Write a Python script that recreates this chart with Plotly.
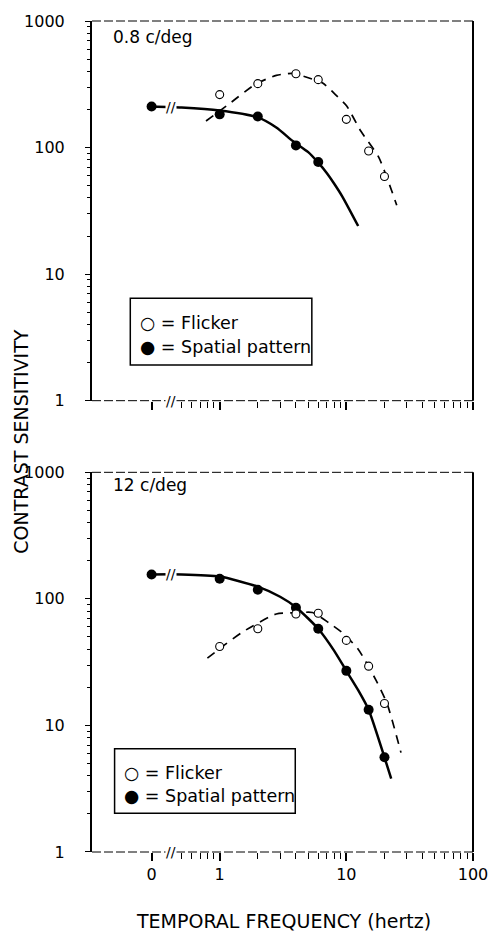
import math
import plotly.graph_objects as go

# ---------------- data ----------------
# Panel 1: 0.8 c/deg
p1_spatial_f = [0, 1, 2, 4, 6]
p1_spatial_v = [211, 183, 176, 104, 77]
p1_flicker_f = [1, 2, 4, 6, 10, 15, 20]
p1_flicker_v = [262, 320, 383, 344, 167, 94, 59]
p1_solid_f = [0, 0.5, 1, 2, 2.8, 3.8, 5, 6, 7, 8, 9.3, 12.4]
p1_solid_v = [211, 207, 196, 173, 144, 112, 92, 76, 63, 52, 41, 24]
p1_dash_f = [0.78, 1.2, 1.9, 2.8, 3.8, 5, 6.5, 8.2, 10, 13, 18, 25]
p1_dash_v = [162, 223, 315, 372, 385, 356, 324, 262, 215, 135, 84, 35]

# Panel 2: 12 c/deg
p2_spatial_f = [0, 1, 2, 4, 6, 10, 15, 20]
p2_spatial_v = [156, 144, 118, 85, 58, 27, 13.3, 5.6]
p2_flicker_f = [1, 2, 4, 6, 10, 15, 20]
p2_flicker_v = [42, 58, 76, 77, 47, 29.4, 14.9]
p2_solid_f = [0, 0.5, 1, 2, 3, 4, 5, 6, 8, 10, 12.4, 15, 20, 22.6]
p2_solid_v = [156, 156, 150, 125, 104, 86, 70, 58, 39, 27, 19, 13.3, 5.6, 3.8]
p2_dash_f = [0.8, 1.1, 1.55, 2.8, 4, 5.4, 7.3, 9.3, 12.4, 17.3, 21, 27]
p2_dash_v = [34, 43.5, 55.5, 76, 77.5, 78, 64.5, 54, 40, 22.4, 14.8, 6.1]

panel_labels = ["0.8 c/deg", "12 c/deg"]
x_tick_text = ["0", "1", "10", "100"]
y_tick_text = ["1", "10", "100", "1000"]
x_title = "TEMPORAL FREQUENCY (hertz)"
y_title = "CONTRAST SENSITIVITY"
legend_flicker = "\u25CB = Flicker"
legend_spatial = "\u25CF = Spatial pattern"

# ---------------- layout constants ----------------
ZERO_POS = 0.29      # where the "0 Hz" point sits on the broken log axis
BREAK_POS = 0.41     # position of the "//" break mark
FONT = "DejaVu Sans, Liberation Sans, sans-serif"


def pos(f):
    return ZERO_POS if f == 0 else f


fig = go.Figure()

panels = [
    dict(sf=p1_spatial_f, sv=p1_spatial_v, ff=p1_flicker_f, fv=p1_flicker_v,
         lf=p1_solid_f, lv=p1_solid_v, df=p1_dash_f, dv=p1_dash_v,
         xa="x", ya="y"),
    dict(sf=p2_spatial_f, sv=p2_spatial_v, ff=p2_flicker_f, fv=p2_flicker_v,
         lf=p2_solid_f, lv=p2_solid_v, df=p2_dash_f, dv=p2_dash_v,
         xa="x2", ya="y2"),
]

for p in panels:
    fig.add_trace(go.Scatter(x=[pos(f) for f in p["lf"]], y=p["lv"], mode="lines",
                             line=dict(color="black", width=2.5, shape="spline", smoothing=0.6),
                             xaxis=p["xa"], yaxis=p["ya"], showlegend=False, hoverinfo="skip"))
    fig.add_trace(go.Scatter(x=p["df"], y=p["dv"], mode="lines",
                             line=dict(color="black", width=1.7, dash="9px,7px", shape="spline", smoothing=0.6),
                             xaxis=p["xa"], yaxis=p["ya"], showlegend=False, hoverinfo="skip"))
    fig.add_trace(go.Scatter(x=[pos(f) for f in p["sf"]], y=p["sv"], mode="markers",
                             marker=dict(color="black", size=10, symbol="circle"),
                             xaxis=p["xa"], yaxis=p["ya"], showlegend=False))
    fig.add_trace(go.Scatter(x=p["ff"], y=p["fv"], mode="markers",
                             marker=dict(color="white", size=8, symbol="circle",
                                         line=dict(color="black", width=1.1)),
                             xaxis=p["xa"], yaxis=p["ya"], showlegend=False))

x_minor = [0.4, 0.5, 0.6, 0.7, 0.8, 0.9] + [k for k in range(2, 10)] + [10 * k for k in range(2, 10)]
y_minor = [m * 10 ** d for d in range(0, 3) for m in range(2, 10)]

xaxis_common = dict(
    type="log", range=[-1.008, 2.0], showgrid=False, zeroline=False,
    showline=False, ticks="outside", ticklen=8, tickwidth=1.5, tickcolor="black",
    tickvals=[ZERO_POS, 1, 10, 100], ticktext=x_tick_text,
    minor=dict(ticks="outside", ticklen=6, tickwidth=1, tickcolor="black", tickvals=x_minor),
)
yaxis_common = dict(
    type="log", range=[0, 3], showgrid=False, zeroline=False,
    showline=True, linecolor="black", linewidth=2, ticks="outside", ticklen=5,
    tickwidth=1.2, tickcolor="black",
    tickvals=[1, 10, 100, 1000], ticktext=y_tick_text,
    minor=dict(ticks="outside", ticklen=3, tickwidth=1, tickcolor="black", tickvals=y_minor),
    tickfont=dict(family=FONT, size=16, color="black"),
    ticklabelstandoff=17,
)

fig.update_layout(
    width=500, height=935,
    margin=dict(l=92, r=20, t=16, b=83),
    paper_bgcolor="white", plot_bgcolor="white",
    xaxis=dict(domain=[0, 1], anchor="y", showticklabels=False, **xaxis_common),
    yaxis=dict(domain=[0.5431, 1.0], anchor="x", **yaxis_common),
    xaxis2=dict(domain=[0, 1], anchor="y2", tickfont=dict(family=FONT, size=16, color="black"),
                **xaxis_common),
    yaxis2=dict(domain=[0.0, 0.4569], anchor="x2", **yaxis_common),
)

shapes = []
annotations = []
legend_boxes = [
    dict(x0=0.1005, x1=0.577, y0=0.094, y1=0.270, tx=0.122, t1=0.204, t2=0.141),
    dict(x0=0.0593, x1=0.5335, y0=0.102, y1=0.272, tx=0.080, t1=0.207, t2=0.147),
]
for i, (xa, ya) in enumerate([("x", "y"), ("x2", "y2")]):
    xd, yd = f"{xa} domain", f"{ya} domain"
    # right border (solid) and top/bottom borders (broken, as in the scan)
    shapes.append(dict(type="line", xref=xd, yref=yd, x0=1, x1=1, y0=0, y1=1,
                       line=dict(color="black", width=2)))
    shapes.append(dict(type="line", xref=xd, yref=yd, x0=0, x1=1, y0=1, y1=1,
                       line=dict(color="black", width=1, dash="9px,3px")))
    shapes.append(dict(type="line", xref=xd, yref=yd, x0=0, x1=1, y0=0, y1=0,
                       line=dict(color="black", width=1, dash="9px,3px")))
    lb = legend_boxes[i]
    shapes.append(dict(type="rect", xref=xd, yref=yd, x0=lb["x0"], x1=lb["x1"],
                       y0=lb["y0"], y1=lb["y1"], line=dict(color="black", width=1.5),
                       fillcolor="white", layer="below"))
    annotations.append(dict(xref=xd, yref=yd, x=lb["tx"], y=lb["t1"], text=legend_flicker,
                            showarrow=False, xanchor="left", yanchor="middle",
                            font=dict(family=FONT, size=17.5, color="black")))
    annotations.append(dict(xref=xd, yref=yd, x=lb["tx"], y=lb["t2"], text=legend_spatial,
                            showarrow=False, xanchor="left", yanchor="middle",
                            font=dict(family=FONT, size=17.5, color="black")))
    # panel label
    annotations.append(dict(xref=xd, yref=yd, x=0.049, y=[0.958, 0.966][i], text=panel_labels[i],
                            showarrow=False, xanchor="left", yanchor="middle",
                            font=dict(family=FONT, size=17, color="black")))
    # break marks on the axis and on the solid curve
    annotations.append(dict(xref=xd, yref=yd, x=(math.log10(BREAK_POS) + 1.008) / 3.008, y=0,
                            text="//", showarrow=False, xanchor="center", yanchor="middle",
                            bgcolor="white", borderpad=0,
                            font=dict(family=FONT, size=14, color="black")))
    sv = panels[i]["sv"][0]
    annotations.append(dict(xref=xa, yref=ya, x=math.log10(BREAK_POS), y=math.log10(sv),
                            text="//", showarrow=False, xanchor="center", yanchor="middle",
                            bgcolor="white", borderpad=0,
                            font=dict(family=FONT, size=14, color="black")))

annotations.append(dict(xref="paper", yref="paper", x=0.503, y=-0.0835, text=x_title,
                        showarrow=False, xanchor="center", yanchor="middle",
                        font=dict(family=FONT, size=19, color="black")))
annotations.append(dict(xref="paper", yref="paper", x=-0.1856, y=0.494, text=y_title,
                        textangle=-90, showarrow=False, xanchor="center", yanchor="middle",
                        font=dict(family=FONT, size=19, color="black")))

fig.update_layout(shapes=shapes, annotations=annotations)
fig.write_html("out.html",
               config={"displayModeBar": False},
               post_script="document.body.style.margin='0';document.body.style.overflow='hidden';")
